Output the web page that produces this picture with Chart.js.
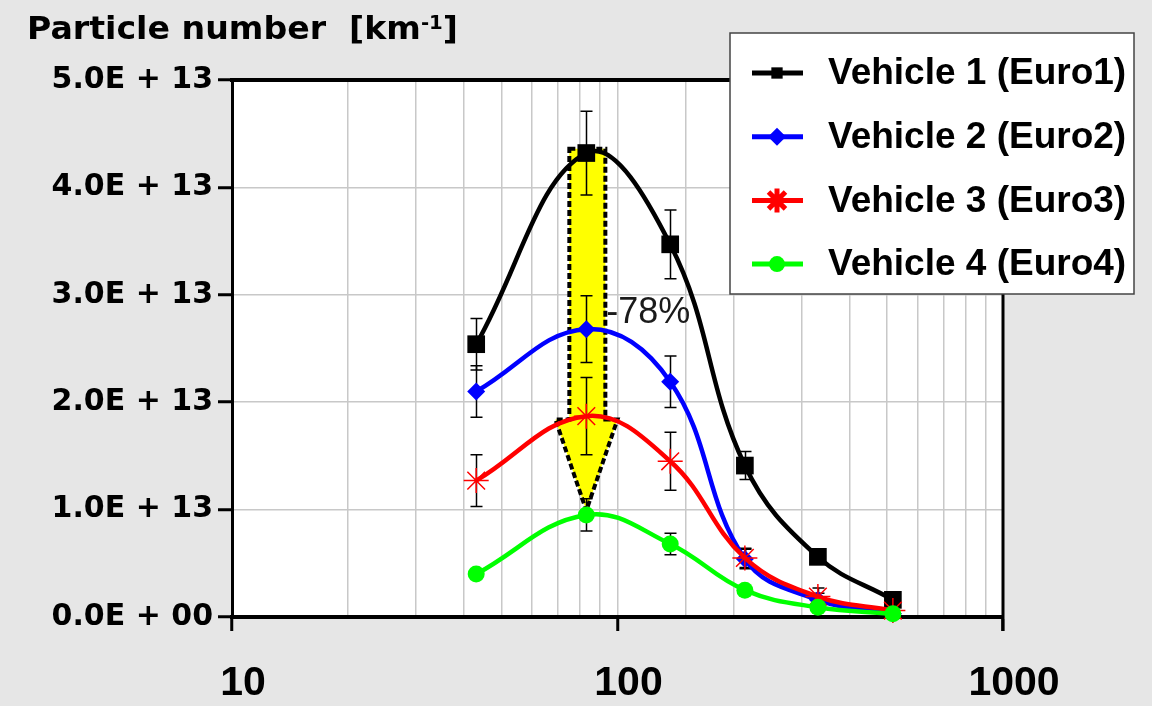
<!DOCTYPE html>
<html>
<head>
<meta charset="utf-8">
<title>Particle number</title>
<script src="https://cdn.jsdelivr.net/npm/chart.js@4.4.0/dist/chart.umd.min.js"></script>
<style>
  html, body { margin: 0; padding: 0; background: #e6e6e6; }
  #wrap { width: 1152px; height: 706px; }
</style>
</head>
<body>
<div id="wrap"><canvas id="pnChart" width="1152" height="706"></canvas></div>
<script>
// ---- data ----
const xValues = [43, 83, 137, 214, 331, 518];

const vehicle1 = [2.54e13, 4.32e13, 3.47e13, 1.41e13, 0.56e13, 0.16e13];
const vehicle2 = [2.10e13, 2.68e13, 2.19e13, 0.54e13, 0.16e13, 0.03e13];
const vehicle3 = [1.27e13, 1.87e13, 1.45e13, 0.55e13, 0.19e13, 0.06e13];
const vehicle4 = [0.40e13, 0.95e13, 0.68e13, 0.25e13, 0.09e13, 0.03e13];

// symmetric error bars
const err1 = [0.24e13, 0.39e13, 0.32e13, 0.13e13, 0, 0];
const err2 = [0.24e13, 0.31e13, 0.24e13, 0.09e13, 0.06e13, 0];
const err3 = [0.24e13, 0.36e13, 0.27e13, 0.09e13, 0.08e13, 0];
const err4 = [0, 0.15e13, 0.10e13, 0, 0, 0];

const seriesLabels = ['Vehicle 1 (Euro1)', 'Vehicle 2 (Euro2)', 'Vehicle 3 (Euro3)', 'Vehicle 4 (Euro4)'];

const xTickValues = [10, 100, 1000];
const xTickLabels = ['10', '100', '1000'];

// arrow annotation (data units)
const arrowShaft = [75, 93];
const arrowHead = [69, 100];
const arrowTipX = 83;
const arrowLevels = [4.36e13, 1.84e13, 0.99e13]; // top, neck, tip
const reductionText = '-78%';
const reductionAt = [93.5, 2.74e13];

// ---- styles ----
const seriesColors = ['#000000', '#0000ff', '#ff0000', '#00ff00'];
const seriesPoints = ['rect', 'rectRot', 'star', 'circle'];
const pointSizes = [12.5, 9, 12.5, 8.5];
const legendPointSizes = [8, 9, 12, 8];

function toPoints(ys) {
    return xValues.map((x, i) => ({ x: x, y: ys[i] }));
}

const allSeries = [vehicle1, vehicle2, vehicle3, vehicle4];
const allErrors = [err1, err2, err3, err4];

const datasets = allSeries.map((ys, i) => ({
    label: seriesLabels[i],
    data: toPoints(ys),
    borderColor: seriesColors[i],
    backgroundColor: seriesColors[i],
    borderWidth: 4.5,
    tension: 0.4,
    pointStyle: seriesPoints[i],
    pointRadius: pointSizes[i],
    pointHoverRadius: pointSizes[i],
    pointBackgroundColor: seriesColors[i],
    pointBorderColor: seriesColors[i],
    pointBorderWidth: seriesPoints[i] === 'star' ? 1.5 : 0,
    order: 4 - i,
    clip: false
}));

function formatSci(v) {
    if (v === 0) return '0.0E + 00';
    const exp = Math.floor(Math.log10(v) + 1e-9);
    const mant = v / Math.pow(10, exp);
    return mant.toFixed(1) + 'E + ' + String(exp).padStart(2, '0');
}

function isLabelled(v) {
    return xTickValues.some(t => Math.abs(t - v) < 1e-6);
}

// ==========================================
// plugins
// ==========================================
const backgroundPlugin = {
    id: 'bg',
    beforeDraw(chart) {
        const { ctx, chartArea: a } = chart;
        ctx.save();
        ctx.fillStyle = '#e6e6e6';
        ctx.fillRect(0, 0, chart.width, chart.height);
        ctx.fillStyle = '#ffffff';
        ctx.fillRect(a.left, a.top, a.right - a.left, a.bottom - a.top);
        ctx.restore();
    }
};

const arrowAndErrorPlugin = {
    id: 'arrowErr',
    beforeDatasetsDraw(chart) {
        const { ctx } = chart;
        const xs = chart.scales.x, ys = chart.scales.y;
        const X = v => xs.getPixelForValue(v);
        const Y = v => ys.getPixelForValue(v);

        // yellow arrow
        const top = Y(arrowLevels[0]), neck = Y(arrowLevels[1]), tip = Y(arrowLevels[2]);
        ctx.save();
        ctx.beginPath();
        ctx.moveTo(X(arrowShaft[0]), top);
        ctx.lineTo(X(arrowShaft[1]), top);
        ctx.lineTo(X(arrowShaft[1]), neck);
        ctx.lineTo(X(arrowHead[1]), neck);
        ctx.lineTo(X(arrowTipX), tip);
        ctx.lineTo(X(arrowHead[0]), neck);
        ctx.lineTo(X(arrowShaft[0]), neck);
        ctx.closePath();
        ctx.fillStyle = '#ffff00';
        ctx.fill();
        ctx.setLineDash([6, 3]);
        ctx.lineWidth = 4;
        ctx.strokeStyle = '#000';
        ctx.stroke();
        ctx.restore();

        // error bars
        ctx.save();
        ctx.strokeStyle = '#000';
        ctx.lineWidth = 1.5;
        allSeries.forEach((ys2, i) => {
            ys2.forEach((v, j) => {
                const e = allErrors[i][j];
                if (!e) return;
                const px = Math.round(X(xValues[j])) + 0.5;
                const y1 = Y(v + e), y2 = Y(v - e);
                ctx.beginPath();
                ctx.moveTo(px, y1); ctx.lineTo(px, y2);
                ctx.moveTo(px - 6, y1); ctx.lineTo(px + 6, y1);
                ctx.moveTo(px - 6, y2); ctx.lineTo(px + 6, y2);
                ctx.stroke();
            });
        });
        ctx.restore();
    }
};

const overlayPlugin = {
    id: 'overlay',
    afterDraw(chart) {
        const { ctx, chartArea: a } = chart;
        const xs = chart.scales.x, ys = chart.scales.y;

        // top and right frame
        ctx.save();
        ctx.strokeStyle = '#000';
        ctx.lineWidth = 4;
        ctx.beginPath();
        ctx.moveTo(a.left - 2, a.top);
        ctx.lineTo(a.right, a.top);
        ctx.stroke();
        ctx.lineWidth = 3;
        ctx.beginPath();
        ctx.moveTo(a.right, a.top);
        ctx.lineTo(a.right, a.bottom + 14);
        ctx.stroke();
        ctx.restore();

        // -78% label
        ctx.save();
        ctx.font = '36px "Liberation Sans", Arial, sans-serif';
        ctx.fillStyle = '#1a1a1a';
        ctx.textBaseline = 'alphabetic';
        ctx.fillText(reductionText, xs.getPixelForValue(reductionAt[0]), ys.getPixelForValue(reductionAt[1]));
        ctx.restore();

        // legend box
        ctx.save();
        ctx.fillStyle = '#fff';
        ctx.fillRect(730, 33, 404, 261);
        ctx.strokeStyle = '#444';
        ctx.lineWidth = 1.5;
        ctx.strokeRect(730, 33, 404, 261);
        ctx.font = 'bold 37px "Liberation Sans", Arial, sans-serif';
        ctx.textBaseline = 'middle';
        seriesLabels.forEach((lab, i) => {
            const cy = 73 + i * 63.7;
            ctx.strokeStyle = seriesColors[i];
            ctx.fillStyle = seriesColors[i];
            ctx.lineWidth = 5;
            ctx.setLineDash([]);
            ctx.beginPath();
            ctx.moveTo(752, cy);
            ctx.lineTo(803, cy);
            ctx.stroke();
            Chart.helpers.drawPoint(ctx, {
                pointStyle: seriesPoints[i],
                radius: legendPointSizes[i],
                rotation: 0,
                borderWidth: seriesPoints[i] === 'star' ? 1.5 : 0
            }, 777, cy);
            ctx.fillStyle = '#000';
            ctx.fillText(lab, 828, cy + 1);
        });
        ctx.restore();

        // axis title with superscript
        ctx.save();
        const mainFont = 'bold 32px "DejaVu Sans", sans-serif';
        const supFont = 'bold 19px "DejaVu Sans", sans-serif';
        ctx.font = mainFont;
        const p1 = 'Particle number  [km';
        const w1 = ctx.measureText(p1).width;
        const w3 = ctx.measureText(']').width;
        ctx.font = supFont;
        const w2 = ctx.measureText('-1').width;
        const sx = 431 / (w1 + w2 + w3);
        ctx.translate(27, 39);
        ctx.scale(sx, 1);
        ctx.fillStyle = '#000';
        ctx.textBaseline = 'alphabetic';
        ctx.font = mainFont;
        ctx.fillText(p1, 0, 0);
        ctx.font = supFont;
        ctx.fillText('-1', w1, -10);
        ctx.font = mainFont;
        ctx.fillText(']', w1 + w2, 0);
        ctx.restore();
    }
};

// ==========================================
// chart
// ==========================================
new Chart(document.getElementById('pnChart'), {
    type: 'line',
    data: { datasets: datasets },
    plugins: [backgroundPlugin, arrowAndErrorPlugin, overlayPlugin],
    options: {
        responsive: false,
        animation: false,
        devicePixelRatio: 1,
        layout: { padding: { top: 80, right: 149, bottom: 0, left: 0 } },
        plugins: {
            legend: { display: false },
            tooltip: { enabled: false }
        },
        scales: {
            x: {
                type: 'logarithmic',
                min: 10,
                max: 1000,
                afterFit(scale) { scale.height = 89; },
                border: { display: true, color: '#000', width: 4 },
                grid: {
                    color: '#c8c8c8',
                    lineWidth: 1.5,
                    tickLength: 14,
                    tickWidth: 3,
                    tickColor: (c) => (c.tick && isLabelled(c.tick.value)) ? '#000' : 'rgba(0,0,0,0)'
                },
                ticks: {
                    autoSkip: false,
                    maxRotation: 0,
                    minRotation: 0,
                    padding: 28,
                    labelOffset: 11,
                    color: '#000',
                    font: { family: 'Liberation Sans', size: 41, weight: 'bold' },
                    callback: (v) => {
                        const k = xTickValues.findIndex(t => Math.abs(t - v) < 1e-6);
                        return k >= 0 ? xTickLabels[k] : '';
                    }
                }
            },
            y: {
                min: 0,
                max: 5e13,
                afterFit(scale) { scale.width = 232; },
                border: { display: true, color: '#000', width: 3 },
                grid: {
                    color: '#c8c8c8',
                    lineWidth: 1.5,
                    tickLength: 14,
                    tickWidth: 3,
                    tickColor: '#000'
                },
                ticks: {
                    stepSize: 1e13,
                    padding: 5,
                    color: '#000',
                    font: { family: 'DejaVu Sans', size: 30, weight: 'bold' },
                    callback: (v) => formatSci(v)
                }
            }
        }
    }
});
</script>
</body>
</html>
